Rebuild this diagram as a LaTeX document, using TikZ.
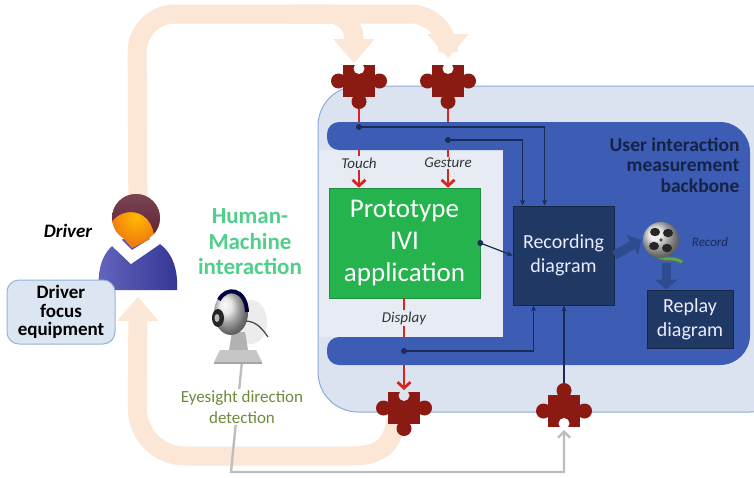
\documentclass[tikz,border=0pt]{standalone}
\usepackage{fontspec}
\setmainfont{Carlito}
\usetikzlibrary{arrows.meta,calc}

\definecolor{paleorange}{HTML}{FCE6D5}
\definecolor{containerfill}{HTML}{DCE3F0}
\definecolor{containerline}{HTML}{8FAADC}
\definecolor{innerlight}{HTML}{E6EBF4}
\definecolor{bandblue}{HTML}{3D5CB3}
\definecolor{navybox}{HTML}{1F3864}
\definecolor{navyline}{HTML}{1B2B57}
\definecolor{protogreen}{HTML}{25B34E}
\definecolor{piecered}{HTML}{8B1A12}
\definecolor{redline}{HTML}{D8261E}
\definecolor{greyline}{HTML}{BEBEBE}
\definecolor{eyesgreen}{HTML}{6F8A3B}
\definecolor{hmigreen}{HTML}{50CF8A}
\definecolor{focusfill}{HTML}{DCE6F2}
\definecolor{focusline}{HTML}{95B3D7}
\definecolor{reelarrow}{HTML}{2D4B8E}
\definecolor{shirtblue}{HTML}{3E3FAE}
\definecolor{hairred}{HTML}{5B1A2C}

% jigsaw piece centred on an existing coordinate; 1 = tab, 0 = blank
% #1 coordinate, #2 top, #3 right, #4 bottom, #5 left, #6 colour behind blanks
\newcommand{\jigsaw}[6]{%
  \begin{scope}[shift={(#1)}]
    \fill[piecered] (-16,-16) rectangle (16,16);
    \ifnum#2=1 \fill[piecered] (0,-20.5) circle (7.5); \else \fill[#6] (0,-12.5) circle (5.5); \fi
    \ifnum#3=1 \fill[piecered] (20.5,0) circle (7.5); \else \fill[#6] (12.5,0) circle (5.5); \fi
    \ifnum#4=1 \fill[piecered] (0,20.5) circle (7.5); \else \fill[#6] (0,12.5) circle (5.5); \fi
    \ifnum#5=1 \fill[piecered] (-20.5,0) circle (7.5); \else \fill[#6] (-12.5,0) circle (5.5); \fi
  \end{scope}}

\begin{document}
\begin{tikzpicture}[x=1pt,y=-1pt,
  palearrow/.style={draw=paleorange, line width=19pt, -{Triangle[length=24pt,width=40pt]}},
  redarrow/.style={draw=redline, line width=2.8pt, -{Straight Barb[length=6pt,width=13pt]}},
  navyarrow/.style={draw=navyline, line width=1.2pt, -{Stealth[length=6pt,width=5pt]}},
  greyarrow/.style={draw=greyline, line width=2.4pt, -{Straight Barb[length=6pt,width=12pt]}},
  reelarrowstyle/.style={draw=reelarrow, line width=9pt, -{Triangle[length=10pt,width=22pt]}},
  protobox/.style={fill=protogreen, draw=protogreen!80!black, line width=0.6pt, text=white,
    align=center, font=\fontsize{27}{32}\selectfont, minimum width=151, minimum height=110, inner sep=0pt},
  navyboxstyle/.style={fill=navybox, draw=navybox!70!black, line width=0.8pt, text=white!92!blue,
    align=center, font=\fontsize{20}{24}\selectfont, inner sep=0pt},
  flowlabel/.style={fill=innerlight, inner sep=1.5pt, text=black!80,
    font=\fontsize{15}{17}\selectfont\itshape},
  dot/.style={fill=navyline}
]
\useasboundingbox (0,0) rectangle (754,477);
\fill[white] (0,0) rectangle (754,477);
\clip (0,0) rectangle (754,477);

% anchor points
\coordinate (touchpz) at (359,81);
\coordinate (gesturepz) at (448,81);
\coordinate (displaypz) at (404,408);
\coordinate (recpz) at (564,411);
\coordinate (split) at (290,14);
\coordinate (topcorner) at (137,14);
\coordinate (botcorner) at (137,456);
\coordinate (cam) at (231,313);
\coordinate (reel) at (661,240);
\node[minimum width=78, minimum height=96, inner sep=0pt] (driver) at (138,242) {};

% pale interaction loops
\draw[palearrow, rounded corners=38] (driver.center) -- (topcorner) -- (gesturepz |- topcorner) -- ($(gesturepz)+(0,-23)$);
\draw[palearrow, rounded corners=25] (split) -| ($(touchpz)+(-5,-18)$);
\draw[palearrow] ($(displaypz)+(-8,12)$) .. controls (392,448) and (378,456) .. (350,456)
  [rounded corners=48] -- (botcorner) -- ($(driver.center)+(0,55)$);

% backbone container
\draw[fill=containerfill, draw=containerline, line width=1pt, rounded corners=40] (318,86) rectangle (790,412);
\fill[innerlight] (318.5,150) rectangle (503,337);

% application box
\node[protobox] (proto) at (404.5,243) {Prototype\\IVI\\application};

% red input / output flows
\draw[redarrow] (touchpz) -- (touchpz |- proto.north);
\draw[redarrow] (gesturepz) -- (gesturepz |- proto.north);
\draw[redarrow, shorten >=2pt] (proto.south -| displaypz) -- ($(displaypz)+(0,-16)$);

% measurement backbone band
\fill[bandblue] (339,122) -- (720,122) arc[start angle=270,end angle=360,radius=30]
  -- (750,335) arc[start angle=0,end angle=90,radius=30]
  -- (339,365) arc[start angle=90,end angle=180,radius=12]
  -- (327,349) arc[start angle=180,end angle=270,radius=12]
  -- (503,337) -- (503,150) -- (339,150) arc[start angle=90,end angle=180,radius=12]
  -- (327,134) arc[start angle=180,end angle=270,radius=12] -- cycle;

\node[flowlabel] (touchlbl) at (359,163) {Touch};
\node[flowlabel] (gesturelbl) at (448,163) {Gesture};
\node[flowlabel] (displaylbl) at (404,318) {Display};

% recording and replay
\node[navyboxstyle, minimum width=101, minimum height=99] (rec) at (563.5,255.5) {Recording\\diagram};
\node[navyboxstyle, minimum width=86, minimum height=58] (replay) at (690,319) {Replay\\diagram};

% taps from the band into the recorder
\coordinate (tdot) at (359,127);
\coordinate (gdot) at (448,140);
\coordinate (ddot) at (404,351);
\draw[navyarrow] (tdot) -| ($(rec.north west)+(32,0)$);
\draw[navyarrow] (gdot) -| ($(rec.north west)+(10,0)$);
\draw[navyarrow] (proto.east) -- (rec.west);
\draw[navyarrow] (ddot) -| ($(rec.south west)+(21,0)$);
\draw[navyarrow] (recpz) -- (recpz |- rec.south);
\fill[dot] (tdot) circle (3);
\fill[dot] (gdot) circle (3);
\fill[dot] (ddot) circle (3);
\fill[dot] (proto.east) circle (3);

% film reel
\coordinate (reeldown) at ($(reel)+(5,23)$);
\draw[reelarrowstyle] (rec.east) -- ($(reel)+(-20,0)$);
\draw[reelarrowstyle] (reeldown) -- (reeldown |- replay.north);
\draw[line width=5pt, draw=black!60] ($(reel)+(-6,14)$) .. controls ($(reel)+(2,22)$) and ($(reel)+(12,16)$) .. ($(reel)+(21,22)$);
\draw[line width=2.6pt, draw=green!40!gray] ($(reel)+(-6,14)$) .. controls ($(reel)+(2,22)$) and ($(reel)+(12,16)$) .. ($(reel)+(21,22)$);
\shade[ball color=gray!25] (reel) circle (18);
\fill[black!85] ($(reel)+(-6,-8)$) ellipse (5 and 4.2);
\fill[black!85] ($(reel)+(7,-7)$) ellipse (5 and 4.2);
\fill[black!85] ($(reel)+(-7,6)$) ellipse (5 and 4.2);
\fill[black!85] ($(reel)+(6,8)$) ellipse (5 and 4.2);
\fill[black!70] (reel) circle (1.8);
\node[text=navyline, font=\fontsize{13}{15}\selectfont\itshape] (recordlbl) at (710,242) {Record};

% eyesight detection feed
\draw[greyarrow, shorten >=1pt] ($(cam)+(11,48)$) -- (cam |- 0,472) -| (recpz |- 0,472) -- ($(recpz)+(0,18)$);

% jigsaw pieces
\jigsaw{touchpz}{0}{1}{1}{1}{white}
\jigsaw{gesturepz}{0}{1}{1}{1}{white}
\jigsaw{displaypz}{0}{1}{1}{1}{containerfill}
\jigsaw{recpz}{1}{1}{0}{1}{white}

% webcam
\fill[gray!15] ($(cam)+(20,9)$) ellipse (16 and 22);
\draw[line width=1.2pt, black!75] ($(cam)+(14,8)$) .. controls ($(cam)+(26,8)$) and ($(cam)+(32,17)$) .. ($(cam)+(37,24)$);
\fill[gray!60] ($(cam)+(1,19)$) -- ($(cam)+(14,19)$) -- ($(cam)+(17,37)$) -- ($(cam)+(-2,37)$) -- cycle;
\fill[gray!45] ($(cam)+(-17,49)$) -- ($(cam)+(31,49)$) -- ($(cam)+(25,37)$) -- ($(cam)+(-11,37)$) -- cycle;
\fill[gray!70] ($(cam)+(-17,49)$) -- ($(cam)+(31,49)$) -- ($(cam)+(31,51)$) -- ($(cam)+(-17,51)$) -- cycle;
\shade[ball color=gray!25] (cam) ellipse (17 and 22);
\draw[line width=4pt, black!75!blue] ($(cam)+(-12,-13)$) .. controls ($(cam)+(-5,-27)$) and ($(cam)+(15,-25)$) .. ($(cam)+(16,-1)$);
\fill[black!85] ($(cam)+(-13,5)$) ellipse (6 and 9);
\fill[gray!55] ($(cam)+(-14,5)$) ellipse (2.5 and 4);

% driver figure
\shade[left color=shirtblue!80!white, right color=shirtblue!85!black]
  (99,290) .. controls (96,256) and (112,238) .. (137,236) .. controls (162,238) and (179,256) .. (177,290) -- cycle;
\fill[white] (112,246) -- (131,264) -- (160,244) -- (153,237) -- (132,250) -- (119,237) -- cycle;
\fill[orange!75!brown] (124,239) -- (132,248) -- (150,239) -- cycle;
\shade[inner color=orange!55!yellow, outer color=orange!80!brown] (136,218) circle (24);
\begin{scope}
  \clip (136,218) circle (24);
  \shade[top color=hairred!80!white, bottom color=hairred]
    (100,190) -- (175,190) -- (175,248) -- (154,248) .. controls (156,230) and (150,213) .. (131,212)
    .. controls (121,212) and (114,218) .. (110,224) -- cycle;
\end{scope}

% text labels
\node[font=\fontsize{19}{22}\selectfont\bfseries\itshape] (drivername) at (68,231) {Driver};
\node[fill=focusfill, draw=focusline, line width=1pt, rounded corners=12, minimum width=108,
  minimum height=64, inner sep=1pt, align=center, font=\fontsize{19}{18.5}\selectfont\bfseries] (focus) at (61,312)
  {Driver\\focus\\equipment};
\node[text=hmigreen, align=center, font=\fontsize{23}{25.5}\selectfont\bfseries] (hmi) at (250,242)
  {Human-\\Machine\\interaction};
\node[fill=white, inner sep=2pt, text=eyesgreen, align=center, font=\fontsize{17}{21}\selectfont] (eyes)
  at (242,407) {Eyesight direction\\detection};
\node[anchor=east, text=navyline!80!black, align=right, font=\fontsize{19.5}{20.5}\selectfont\bfseries]
  (backbone) at (743,165) {User interaction\\measurement\\backbone};
\end{tikzpicture}
\end{document}
